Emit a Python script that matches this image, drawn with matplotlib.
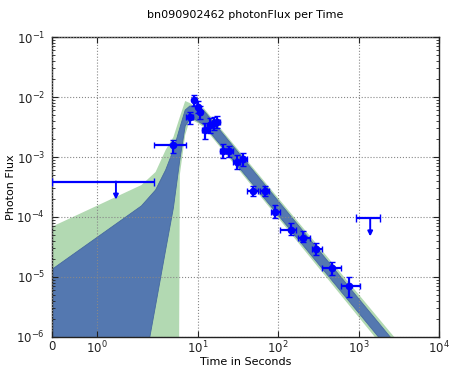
import numpy as np
import matplotlib
matplotlib.use('Agg')
import matplotlib.pyplot as plt
from matplotlib.ticker import NullLocator, FixedLocator, LogLocator

plt.rcParams['font.family'] = ['DejaVu Sans']
plt.rcParams['mathtext.default'] = 'regular'

# measured light curve points (time in s, photon flux)
t_pts = [5.0, 7.98, 9.03, 9.96, 10.7, 12.3, 14.2, 15.8, 17.4, 20.5, 24.8, 30.6, 36.4,
         48.5, 67.8, 90.4, 143, 205, 300, 471, 760]
t_lo = [2.83, 7.12, 8.8, 9.5, 10.4, 11.2, 13.3, 15.0, 16.6, 18.7, 22.5, 27.5, 33.5,
        40.8, 59, 80.5, 107, 178, 262, 354, 610]
t_hi = [7.12, 8.8, 9.5, 10.4, 11.2, 13.3, 15.0, 16.6, 18.7, 22.5, 27.5, 33.5, 40.8,
        57, 78, 107, 169, 247, 354, 610, 1038]
flux = [1.58e-3, 4.7e-3, 8.9e-3, 6.9e-3, 5.6e-3, 2.8e-3, 3.4e-3, 3.7e-3, 3.9e-3,
        1.28e-3, 1.26e-3, 8.4e-4, 9.2e-4, 2.75e-4, 2.75e-4, 1.23e-4, 6.1e-5, 4.4e-5,
        2.93e-5, 1.4e-5, 7.1e-6]
flux_lo = [1.17e-3, 3.55e-3, 7.1e-3, 5.4e-3, 4.3e-3, 2.0e-3, 2.5e-3, 2.8e-3, 3.05e-3,
           9.6e-4, 1.0e-3, 6.3e-4, 7.1e-4, 2.28e-4, 2.28e-4, 9.6e-5, 5.0e-5, 3.8e-5,
           2.34e-5, 1.1e-5, 4.6e-6]
flux_hi = [1.9e-3, 5.6e-3, 1.08e-2, 8.6e-3, 7.1e-3, 3.7e-3, 4.5e-3, 4.6e-3, 4.8e-3,
           1.64e-3, 1.52e-3, 1.08e-3, 1.17e-3, 3.3e-4, 3.3e-4, 1.58e-4, 7.9e-5, 5.8e-5,
           3.7e-5, 1.8e-5, 1.0e-5]

# upper limits
ul_t = [1.43, 1395]
ul_terr = [1.43, 460]
ul_flux = [3.9e-4, 9.5e-5]

# model bands
band_t = [0, 2, 3, 4, 5, 6, 7, 8, 9, 10, 12, 100, 3000]
green_hi = [6.89e-5, 3.41e-4, 5.62e-4, 1.31e-3, 2.15e-3, 4.64e-3, 8.58e-3, 7.94e-3,
            7.08e-3, 6.81e-3, 6.46e-3, 2.08e-4, 8.81e-7]
green_lo = [1e-30, 1e-30, 1e-30, 1e-30, 1e-30, 5.01e-4, 2.33e-3, 4.14e-3, 3.98e-3,
            3.69e-3, 3.11e-3, 9.66e-5, 3.51e-7]
blue_hi = [1.34e-5, 1.53e-4, 2.82e-4, 6.07e-4, 1.31e-3, 3.04e-3, 6.07e-3, 7.08e-3,
           7.08e-3, 6.56e-3, 5.89e-3, 1.86e-4, 7.30e-7]
blue_lo = [1e-9, 1.7e-7, 3.35e-6, 2.82e-5, 1.43e-4, 8.91e-4, 3.29e-3, 4.30e-3,
           4.30e-3, 3.98e-3, 3.41e-3, 1.08e-4, 4.23e-7]

fig = plt.figure(figsize=(4.5, 3.74), dpi=100, facecolor='white')
ax = fig.add_axes([0.1156, 0.099, 0.86, 0.802])

ax.fill_between(band_t, green_lo, green_hi, color='#b2d9b2', linewidth=0, zorder=1)
ax.fill_between(band_t, blue_lo, blue_hi, facecolor='#5478b0', edgecolor='#46699f',
                linewidth=0.6, zorder=2)

t = np.array(t_pts)
f = np.array(flux)
xerr = [t - np.array(t_lo), np.array(t_hi) - t]
yerr = [f - np.array(flux_lo), np.array(flux_hi) - f]
ax.errorbar(t, f, xerr=xerr, yerr=yerr, fmt='o', color='b', ms=4.5, mec='b',
            elinewidth=1.6, capsize=2, capthick=1, zorder=5)

for x, xe, y in zip(ul_t, ul_terr, ul_flux):
    ax.errorbar([x], [y], xerr=[xe], fmt='none', ecolor='b', elinewidth=1.6,
                capsize=3, capthick=1, zorder=5)
    ax.annotate('', xy=(x, y * 0.5), xytext=(x, y),
                arrowprops=dict(arrowstyle='-|>', color='b', lw=1.4,
                                mutation_scale=7, shrinkA=0, shrinkB=0), zorder=5)

ax.set_xscale('symlog', linthresh=2, linscale=1)
ax.set_yscale('log')
ax.set_xlim(0, 1e4)
ax.set_ylim(1e-6, 1e-1)

ax.xaxis.set_major_locator(FixedLocator([0, 1, 10, 100, 1000, 10000]))
ax.set_xticklabels(['$0$', '$10^{0}$', '$10^{1}$', '$10^{2}$', '$10^{3}$', '$10^{4}$'])
ax.xaxis.set_minor_locator(NullLocator())
ax.yaxis.set_major_locator(LogLocator(base=10, numticks=10))
ax.yaxis.set_minor_locator(LogLocator(base=10, subs=np.arange(2, 10), numticks=20))

ax.tick_params(which='both', direction='in', top=True, right=True, labelsize=8.5,
               colors='#222222', pad=5)
ax.tick_params(axis='x', pad=2)
ax.tick_params(which='major', length=4, width=0.8)
ax.tick_params(which='minor', length=2, width=0.6)
for s in ax.spines.values():
    s.set_color('#222222')
    s.set_linewidth(1.0)

ax.grid(True, which='major', color='#888888', linestyle=':', linewidth=0.8)
ax.set_axisbelow(False)

ax.set_xlabel('Time in Seconds', fontsize=8)
ax.set_ylabel('Photon Flux', fontsize=8)
ax.xaxis.set_label_coords(0.5, -0.068)
ax.yaxis.set_label_coords(-0.092, 0.5)
ax.set_title('bn090902462 photonFlux per Time', fontsize=8, pad=14)

fig.savefig('out.png', dpi=100, facecolor='white')
